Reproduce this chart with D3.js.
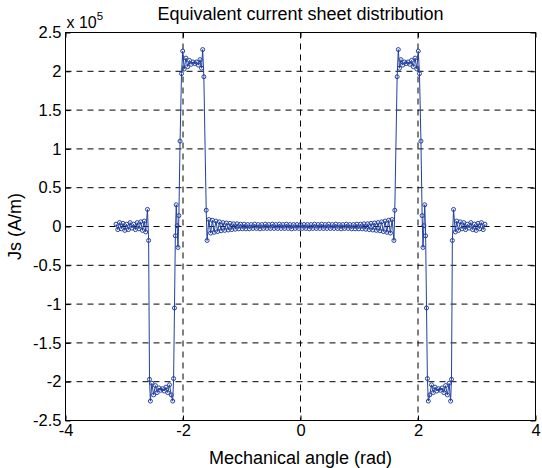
<!DOCTYPE html>
<html>
<head>
<meta charset="utf-8">
<script src="https://cdn.jsdelivr.net/npm/d3@7"></script>
<style>
  body { margin: 0; background: #fff; }
  svg { display: block; font-family: "Liberation Sans", Arial, Helvetica, sans-serif; }
</style>
</head>
<body>
<div id="chart"></div>
<script>
// Mechanical angle (rad), negative half
const angleLeft = [
  -3.14, -3.11, -3.08, -3.05, -3.02, -2.99, -2.96, -2.93, -2.90, -2.87,
  -2.84, -2.81, -2.78, -2.75, -2.72, -2.69, -2.66, -2.635, -2.605, -2.585,
  -2.57, -2.555, -2.53, -2.50, -2.47, -2.44, -2.41, -2.38, -2.35, -2.32,
  -2.29, -2.26, -2.23, -2.20, -2.175, -2.16,
  -2.145, -2.13, -2.115, -2.10, -2.085, -2.07, -2.05, -2.025, -2.005,
  -1.98, -1.95, -1.92, -1.89, -1.86, -1.83, -1.80, -1.77, -1.74, -1.71,
  -1.685, -1.665, -1.645,
  -1.605, -1.59,
  -1.56, -1.53, -1.50, -1.47, -1.44, -1.41, -1.38, -1.35, -1.32, -1.29,
  -1.26, -1.23, -1.20, -1.17, -1.14, -1.11, -1.08, -1.05, -1.02, -0.99,
  -0.96, -0.93, -0.90, -0.87, -0.84, -0.81, -0.78, -0.75, -0.72, -0.69,
  -0.66, -0.63, -0.60, -0.57, -0.54, -0.51, -0.48, -0.45, -0.42, -0.39,
  -0.36, -0.33, -0.30, -0.27, -0.24, -0.21, -0.18, -0.15, -0.12, -0.09,
  -0.06, -0.03, 0
];
// Js in units of 1e5 A/m, negative half
const jsLeft = [
  0.03, -0.04, 0.05, -0.03, 0.04, -0.05, 0.03, -0.04, 0.05, -0.02,
  0.03, -0.04, 0.05, -0.03, 0.06, -0.05, 0.07, -0.07, 0.22, -0.18,
  -1.97, -2.25, -2.02, -2.17, -2.05, -2.14, -2.08, -2.11, -2.09, -2.12,
  -2.07, -2.14, -2.04, -2.17, -2.25, -1.96,
  -1.05, -0.12, 0.28, 0.01, -0.27, 0.14, 1.1, 1.97, 2.26,
  2.03, 2.17, 2.06, 2.14, 2.09, 2.12, 2.10, 2.12, 2.08, 2.15,
  2.04, 2.28, 1.93,
  0.21, -0.18,
  0.09, -0.085, 0.08, -0.075, 0.07, -0.065, 0.06, -0.055, 0.05, -0.05,
  0.045, -0.045, 0.04, -0.04, 0.035, -0.035, 0.035, -0.03, 0.03, -0.03,
  0.03, -0.03, 0.025, -0.03, 0.025, -0.025, 0.03, -0.025, 0.025, -0.03,
  0.025, -0.025, 0.03, -0.025, 0.025, -0.025, 0.03, -0.025, 0.025, -0.025,
  0.03, -0.025, 0.025, -0.025, 0.03, -0.025, 0.025, -0.03, 0.025, -0.025,
  0.025, -0.025, 0.025
];
// positive half
const angleRight = [
  0.03, 0.06, 0.09, 0.12, 0.15, 0.18, 0.21, 0.24, 0.27, 0.30,
  0.33, 0.36, 0.39, 0.42, 0.45, 0.48, 0.51, 0.54, 0.57, 0.60,
  0.63, 0.66, 0.69, 0.72, 0.75, 0.78, 0.81, 0.84, 0.87, 0.90,
  0.93, 0.96, 0.99, 1.02, 1.05, 1.08, 1.11, 1.14, 1.17, 1.20,
  1.23, 1.26, 1.29, 1.32, 1.35, 1.38, 1.41, 1.44, 1.47, 1.50,
  1.53, 1.56,
  1.59, 1.605,
  1.645, 1.665, 1.685, 1.71, 1.74, 1.77, 1.80, 1.83, 1.86, 1.89,
  1.92, 1.95, 1.98,
  2.005, 2.025, 2.05, 2.07, 2.085, 2.10, 2.115, 2.13, 2.145,
  2.16, 2.175, 2.20, 2.23, 2.26, 2.29, 2.32, 2.35, 2.38, 2.41,
  2.44, 2.47, 2.50, 2.53, 2.555, 2.57,
  2.585, 2.605, 2.635, 2.66, 2.69, 2.72, 2.75, 2.78, 2.81, 2.84,
  2.87, 2.90, 2.93, 2.96, 2.99, 3.02, 3.05, 3.08, 3.11, 3.14
];
const jsRight = [
  -0.025, 0.025, -0.025, 0.025, -0.03, 0.025, -0.025, 0.03, -0.025, 0.025,
  -0.025, 0.03, -0.025, 0.025, -0.025, 0.03, -0.025, 0.025, -0.025, 0.03,
  -0.025, 0.025, -0.03, 0.025, -0.025, 0.03, -0.025, 0.025, -0.03, 0.025,
  -0.03, 0.03, -0.03, 0.03, -0.03, 0.035, -0.035, 0.035, -0.04, 0.04,
  -0.045, 0.045, -0.05, 0.05, -0.055, 0.06, -0.065, 0.07, -0.075, 0.08,
  -0.085, 0.09,
  -0.18, 0.21,
  1.93, 2.28, 2.04, 2.15, 2.08, 2.12, 2.10, 2.12, 2.09, 2.14,
  2.06, 2.17, 2.03,
  2.26, 1.97, 1.1, 0.14, -0.27, 0.01, 0.28, -0.12, -1.05,
  -1.96, -2.25, -2.17, -2.04, -2.14, -2.07, -2.12, -2.09, -2.11, -2.08,
  -2.14, -2.05, -2.17, -2.02, -2.25, -1.97,
  -0.18, 0.22, -0.07, 0.07, -0.05, 0.06, -0.03, 0.05, -0.04, 0.03,
  -0.02, 0.05, -0.04, 0.03, -0.05, 0.04, -0.03, 0.05, -0.04, 0.03
];

const xTicks = [-4, -2, 0, 2, 4];
const yTicks = [-2.5, -2, -1.5, -1, -0.5, 0, 0.5, 1, 1.5, 2, 2.5];

const titleText = "Equivalent current sheet distribution";
const xLabelText = "Mechanical angle (rad)";
const yLabelText = "Js (A/m)";

const width = 542, height = 468;
const margin = {top: 32.5, right: 6.5, bottom: 47.5, left: 65.5};
const blue = "#23409f";

const points = angleLeft.map((a, i) => ({a, v: jsLeft[i]}))
  .concat(angleRight.map((a, i) => ({a, v: jsRight[i]})));

const svg = d3.select("#chart").append("svg")
  .attr("width", width)
  .attr("height", height);

svg.append("rect").attr("width", width).attr("height", height).attr("fill", "#fff");

const x = d3.scaleLinear().domain([-4, 4]).range([margin.left, width - margin.right]);
const y = d3.scaleLinear().domain([-2.5, 2.5]).range([height - margin.bottom, margin.top]);

// grid
const grid = svg.append("g")
  .attr("stroke", "#000")
  .attr("stroke-width", 1)
  .attr("stroke-dasharray", "6,5");
grid.selectAll(".gx").data(xTicks.slice(1, -1)).join("line")
  .attr("x1", d => x(d)).attr("x2", d => x(d))
  .attr("y1", y(2.5)).attr("y2", y(-2.5));
grid.selectAll(".gy").data(yTicks.slice(1, -1)).join("line")
  .attr("x1", x(-4)).attr("x2", x(4))
  .attr("y1", d => y(d)).attr("y2", d => y(d));

// axes, ticks pointing inward like MATLAB
const axisFont = g => g.selectAll("text")
  .attr("font-size", 16.5)
  .attr("fill", "#000")
  .attr("font-family", "'Liberation Sans', Arial, sans-serif");

svg.append("g")
  .attr("transform", `translate(0,${y(-2.5)})`)
  .call(d3.axisBottom(x).tickValues(xTicks).tickFormat(d => String(d)).tickSize(-5).tickPadding(4))
  .call(g => g.select(".domain").remove())
  .call(axisFont);
svg.append("g")
  .attr("transform", `translate(0,${y(2.5)})`)
  .call(d3.axisTop(x).tickValues(xTicks).tickFormat("").tickSize(-5))
  .call(g => g.select(".domain").remove());
svg.append("g")
  .attr("transform", `translate(${x(-4)},0)`)
  .call(d3.axisLeft(y).tickValues(yTicks).tickFormat(d => String(d)).tickSize(-5).tickPadding(4))
  .call(g => g.select(".domain").remove())
  .call(axisFont);
svg.append("g")
  .attr("transform", `translate(${x(4)},0)`)
  .call(d3.axisRight(y).tickValues(yTicks).tickFormat("").tickSize(-5))
  .call(g => g.select(".domain").remove());

// box
svg.append("rect")
  .attr("x", x(-4)).attr("y", y(2.5))
  .attr("width", x(4) - x(-4)).attr("height", y(-2.5) - y(2.5))
  .attr("fill", "none").attr("stroke", "#000").attr("stroke-width", 1);

// data line + markers
const line = d3.line().x(d => x(d.a)).y(d => y(d.v));
svg.append("path")
  .datum(points)
  .attr("d", line)
  .attr("fill", "none")
  .attr("stroke", blue)
  .attr("stroke-width", 1);
svg.append("g").selectAll("circle").data(points).join("circle")
  .attr("cx", d => x(d.a))
  .attr("cy", d => y(d.v))
  .attr("r", 2)
  .attr("fill", "none")
  .attr("stroke", blue)
  .attr("stroke-width", 1);

// exponent label
const expo = svg.append("text")
  .attr("x", x(-4) + 1).attr("y", 28)
  .attr("font-size", 16);
expo.append("tspan").text("x 10");
expo.append("tspan").attr("dy", -8).attr("font-size", 11.5).text("5");

// title and labels
svg.append("text")
  .attr("x", (x(-4) + x(4)) / 2).attr("y", 20)
  .attr("text-anchor", "middle").attr("font-size", 18)
  .text(titleText);
svg.append("text")
  .attr("x", (x(-4) + x(4)) / 2).attr("y", 464)
  .attr("text-anchor", "middle").attr("font-size", 18)
  .text(xLabelText);
svg.append("text")
  .attr("transform", `translate(21,${y(0)}) rotate(-90)`)
  .attr("text-anchor", "middle").attr("font-size", 18)
  .text(yLabelText);
</script>
</body>
</html>
